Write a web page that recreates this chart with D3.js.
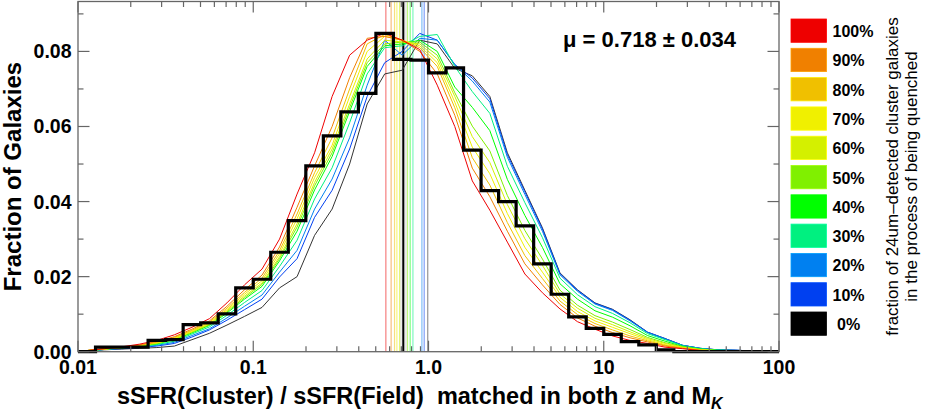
<!DOCTYPE html>
<html><head><meta charset="utf-8">
<script src="https://cdn.jsdelivr.net/npm/d3@7"></script>
<style>
html,body{margin:0;padding:0;background:#fff;}
svg{display:block;font-family:"Liberation Sans",Arial,Helvetica,sans-serif;}
</style></head>
<body>
<svg id="chart" width="926" height="412"></svg>
<script>
// ---------------- data ----------------
const legendLabels = ["100%","90%","80%","70%","60%","50%","40%","30%","20%","10%","0%"];
const seriesColors = ["#ee0000","#f08000","#f0c000","#f0f000","#d4f000","#80f000","#00ff00","#00f080","#0080f0","#0040f0","#000000"];
const xTickValues = [0.01, 0.1, 1, 10, 100];
const xTickLabels = ["0.01","0.1","1.0","10","100"];
const yTickValues = [0, 0.02, 0.04, 0.06, 0.08];
const yTickLabels = ["0.00","0.02","0.04","0.06","0.08"];

// histogram (fraction per 0.1 dex bin, from log10 = -2 to 2)
const histValues = [0,0.0012,0.0012,0.0012,0.0030,0.0032,0.0072,0.0077,0.0101,0.0170,0.0193,0.0265,0.0349,0.0495,0.0575,0.0639,0.0688,0.0848,0.0779,0.0777,0.0743,0.0756,0.0537,0.0429,0.0400,0.0335,0.0234,0.0153,0.0093,0.0062,0.0046,0.0027,0.0018,0.0005,0,0,0,0,0,0];

const s100 = [0.0003,0.0008,0.0013,0.0020,0.0030,0.0045,0.0065,0.0088,0.0130,0.0178,0.0220,0.0300,0.0420,0.0530,0.0680,0.0790,0.0830,0.0848,0.0830,0.0805,0.0710,0.0600,0.0455,0.0377,0.0292,0.0207,0.0157,0.0114,0.0080,0.0060,0.0042,0.0030,0.0022,0.0012,0.0008,0.0003,0.0001,0,0,0];
const s90  = [0.0003,0.0008,0.0012,0.0018,0.0027,0.0040,0.0060,0.0082,0.0121,0.0165,0.0204,0.0279,0.0385,0.0495,0.0600,0.0730,0.0835,0.0840,0.0830,0.0800,0.0740,0.0630,0.0489,0.0413,0.0321,0.0234,0.0178,0.0126,0.0090,0.0068,0.0051,0.0037,0.0026,0.0015,0.0009,0.0004,0.0001,0,0,0];
const s80  = [0.0003,0.0007,0.0012,0.0017,0.0025,0.0038,0.0057,0.0079,0.0116,0.0158,0.0196,0.0269,0.0367,0.0477,0.0570,0.0700,0.0820,0.0845,0.0830,0.0810,0.0760,0.0650,0.0517,0.0444,0.0344,0.0256,0.0195,0.0135,0.0099,0.0075,0.0058,0.0042,0.0029,0.0017,0.0010,0.0004,0.0002,0.0001,0,0];
const s70  = [0.0003,0.0007,0.0011,0.0017,0.0024,0.0036,0.0055,0.0076,0.0112,0.0153,0.0189,0.0261,0.0354,0.0464,0.0550,0.0680,0.0800,0.0840,0.0830,0.0815,0.0770,0.0665,0.0545,0.0474,0.0368,0.0278,0.0212,0.0145,0.0107,0.0082,0.0065,0.0048,0.0032,0.0019,0.0011,0.0005,0.0002,0.0001,0.0001,0];
const s60  = [0.0003,0.0007,0.0011,0.0016,0.0023,0.0034,0.0053,0.0074,0.0109,0.0148,0.0183,0.0253,0.0341,0.0451,0.0540,0.0660,0.0780,0.0830,0.0825,0.0820,0.0780,0.0680,0.0573,0.0504,0.0392,0.0301,0.0230,0.0154,0.0116,0.0089,0.0072,0.0053,0.0035,0.0022,0.0012,0.0006,0.0003,0.0002,0.0001,0];
const s50  = [0.0003,0.0007,0.0011,0.0016,0.0022,0.0033,0.0052,0.0072,0.0106,0.0144,0.0179,0.0248,0.0332,0.0442,0.0530,0.0650,0.0770,0.0820,0.0825,0.0825,0.0790,0.0690,0.0601,0.0535,0.0416,0.0323,0.0247,0.0164,0.0124,0.0096,0.0079,0.0059,0.0038,0.0024,0.0013,0.0006,0.0003,0.0002,0.0001,0];
const s40  = [0.0003,0.0007,0.0010,0.0015,0.0021,0.0032,0.0050,0.0070,0.0103,0.0140,0.0174,0.0242,0.0321,0.0431,0.0520,0.0640,0.0760,0.0815,0.0820,0.0830,0.0800,0.0705,0.0651,0.0589,0.0459,0.0363,0.0278,0.0181,0.0140,0.0109,0.0092,0.0069,0.0043,0.0028,0.0014,0.0007,0.0004,0.0003,0.0001,0];
const s30  = [0.0002,0.0006,0.0010,0.0014,0.0019,0.0028,0.0047,0.0066,0.0097,0.0131,0.0163,0.0227,0.0297,0.0407,0.0490,0.0610,0.0740,0.0810,0.0815,0.0840,0.0845,0.0760,0.0693,0.0635,0.0494,0.0397,0.0304,0.0196,0.0152,0.0120,0.0102,0.0077,0.0048,0.0032,0.0016,0.0008,0.0004,0.0003,0.0002,0.0001];
const s20  = [0.0002,0.0006,0.0009,0.0013,0.0017,0.0025,0.0043,0.0061,0.0090,0.0121,0.0151,0.0212,0.0270,0.0380,0.0460,0.0570,0.0710,0.0830,0.0790,0.0835,0.0830,0.0765,0.0721,0.0665,0.0518,0.0419,0.0321,0.0205,0.0161,0.0127,0.0110,0.0082,0.0051,0.0034,0.0017,0.0009,0.0005,0.0004,0.0002,0.0001];
const s10  = [0.0002,0.0006,0.0008,0.0011,0.0015,0.0022,0.0039,0.0058,0.0084,0.0112,0.0140,0.0199,0.0248,0.0358,0.0430,0.0540,0.0680,0.0770,0.0800,0.0848,0.0830,0.0765,0.0729,0.0674,0.0525,0.0426,0.0327,0.0208,0.0164,0.0129,0.0112,0.0084,0.0052,0.0035,0.0017,0.0009,0.0005,0.0004,0.0002,0.0001];
const s0   = [0.0002,0.0005,0.0007,0.0009,0.0011,0.0015,0.0032,0.0049,0.0071,0.0094,0.0118,0.0170,0.0200,0.0310,0.0380,0.0500,0.0660,0.0740,0.0750,0.0830,0.0820,0.0755,0.0735,0.0680,0.0530,0.0430,0.0330,0.0210,0.0165,0.0130,0.0113,0.0085,0.0052,0.0035,0.0017,0.0009,0.0005,0.0004,0.0002,0.0001];

// mean sSFR ratio for each series
const seriesMeans = [0.571,0.612,0.640,0.660,0.684,0.759,0.786,0.815,0.917,0.945,0.990];
const muValue = 0.718, muErr = 0.034;

// ---------------- layout ----------------
const svg = d3.select("#chart");
const L = 78, R = 779, T = 1.5, B = 351.7;
const x = d3.scaleLog().domain([0.01, 100]).range([L, R]);
const y = d3.scaleLinear().domain([0, 0.0933]).range([B, T]);
const axisCol = "#666";

const binEdges = d3.range(41).map(i => Math.pow(10, -2 + i * 0.1));
const binCenters = d3.range(40).map(i => Math.pow(10, -1.95 + i * 0.1));
const allSeries = [s100,s90,s80,s70,s60,s50,s40,s30,s20,s10,s0];

const plot = svg.append("g");
svg.append("defs").append("clipPath").attr("id","clip").append("rect")
  .attr("x",L).attr("y",T).attr("width",R-L).attr("height",B-T);

// uncertainty band on mu
plot.append("rect")
  .attr("x", x(muValue - muErr)).attr("width", x(muValue + muErr) - x(muValue - muErr))
  .attr("y", T).attr("height", B - T).attr("fill", "#bbb").attr("opacity", 0.3);

// mean lines for each series
seriesMeans.forEach((m, i) => {
  plot.append("line").attr("x1", x(m)).attr("x2", x(m)).attr("y1", T).attr("y2", B)
    .attr("stroke", i === 10 ? "#888" : seriesColors[i]).attr("stroke-opacity", i === 10 ? 0.9 : 0.5)
    .attr("stroke-width", 1.2);
});
// mu line
plot.append("line").attr("x1", x(muValue)).attr("x2", x(muValue)).attr("y1", T).attr("y2", B)
  .attr("stroke", "#000").attr("stroke-width", 2);

// curves (0% drawn first, 100% last)
const line = d3.line().x((d, i) => x(binCenters[i])).y(d => y(d));
for (let i = allSeries.length - 1; i >= 0; i--) {
  plot.append("path").datum(allSeries[i]).attr("d", line)
    .attr("fill", "none").attr("stroke", i === 10 ? "#333" : seriesColors[i])
    .attr("stroke-width", 1).attr("stroke-linejoin", "round").attr("clip-path","url(#clip)");
}

// histogram step line
const stepPts = [];
histValues.forEach((v, i) => { stepPts.push([binEdges[i], v]); stepPts.push([binEdges[i + 1], v]); });
plot.append("path").datum(stepPts)
  .attr("d", d3.line().x(d => x(d[0])).y(d => y(d[1])))
  .attr("fill", "none").attr("stroke", "#000").attr("stroke-width", 3.2).attr("stroke-linejoin", "miter");

// ---------------- axes ----------------
const minorX = [];
for (let e = -2; e < 2; e++) for (let k = 2; k <= 9; k++) minorX.push(k * Math.pow(10, e));
const frame = svg.append("g");
frame.append("rect").attr("x", L).attr("y", T).attr("width", R - L).attr("height", B - T)
  .attr("fill", "none").attr("stroke", axisCol).attr("stroke-width", 1.3);

function tickLines(vals, len, horiz) {
  vals.forEach(v => {
    if (horiz) {
      const px = x(v);
      frame.append("line").attr("x1", px).attr("x2", px).attr("y1", B).attr("y2", B - len).attr("stroke", axisCol).attr("stroke-width", 1.2);
      frame.append("line").attr("x1", px).attr("x2", px).attr("y1", T).attr("y2", T + len).attr("stroke", axisCol).attr("stroke-width", 1.2);
    } else {
      const py = y(v);
      frame.append("line").attr("x1", L).attr("x2", L + len).attr("y1", py).attr("y2", py).attr("stroke", axisCol).attr("stroke-width", 1.2);
      frame.append("line").attr("x1", R).attr("x2", R - len).attr("y1", py).attr("y2", py).attr("stroke", axisCol).attr("stroke-width", 1.2);
    }
  });
}
tickLines(xTickValues, 11, true);
tickLines(minorX, 5.5, true);
tickLines(yTickValues, 11.5, false);
tickLines([0.01, 0.03, 0.05, 0.07, 0.09], 5.5, false);

// tick labels
xTickValues.forEach((v, i) => {
  svg.append("text").attr("x", x(v)).attr("y", 373.5).attr("text-anchor", "middle")
    .attr("font-size", 19.5).attr("font-weight", "bold").text(xTickLabels[i]);
});
yTickValues.forEach((v, i) => {
  svg.append("text").attr("x", 71.5).attr("y", y(v) + 7).attr("text-anchor", "end")
    .attr("font-size", 19.5).attr("font-weight", "bold").text(yTickLabels[i]);
});

// axis titles
const xt = svg.append("text").attr("x", 117).attr("y", 403.5).attr("font-size", 23.5).attr("font-weight", "bold");
xt.append("tspan").text("sSFR(Cluster) / sSFR(Field)\u00a0\u00a0matched in both z and M");
xt.append("tspan").attr("font-size", 16).attr("font-style", "italic").attr("dy", 5).text("K");

svg.append("text").attr("transform", `translate(20.5,${(T + B) / 2}) rotate(-90)`)
  .attr("text-anchor", "middle").attr("font-size", 24).attr("font-weight", "bold").text("Fraction of Galaxies");

// mu annotation
svg.append("text").attr("x", 736).attr("y", 47).attr("text-anchor", "end")
  .attr("font-size", 22).attr("font-weight", "bold").text("\u03bc = 0.718 \u00b1 0.034");

// ---------------- legend ----------------
const lg = svg.append("g");
legendLabels.forEach((lab, i) => {
  const yy = 19 + i * 29.3;
  lg.append("rect").attr("x", 791).attr("y", yy).attr("width", 35.5).attr("height", 23.3)
    .attr("fill", seriesColors[i]).attr("stroke", d3.color(seriesColors[i]).brighter(0.6)).attr("stroke-width", 0.8);
  lg.append("text").attr("x", i === 10 ? 837 : 832.5).attr("y", yy + 18)
    .attr("font-size", 16).attr("font-weight", "bold").text(lab);
});
svg.append("text").attr("transform", "translate(897.5,176.5) rotate(-90)").attr("text-anchor", "middle")
  .attr("font-size", 17).text("fraction of 24um\u2013detected cluster galaxies");
svg.append("text").attr("transform", "translate(916.5,176.5) rotate(-90)").attr("text-anchor", "middle")
  .attr("font-size", 17).text("in the process of being quenched");
</script>
</body></html>
